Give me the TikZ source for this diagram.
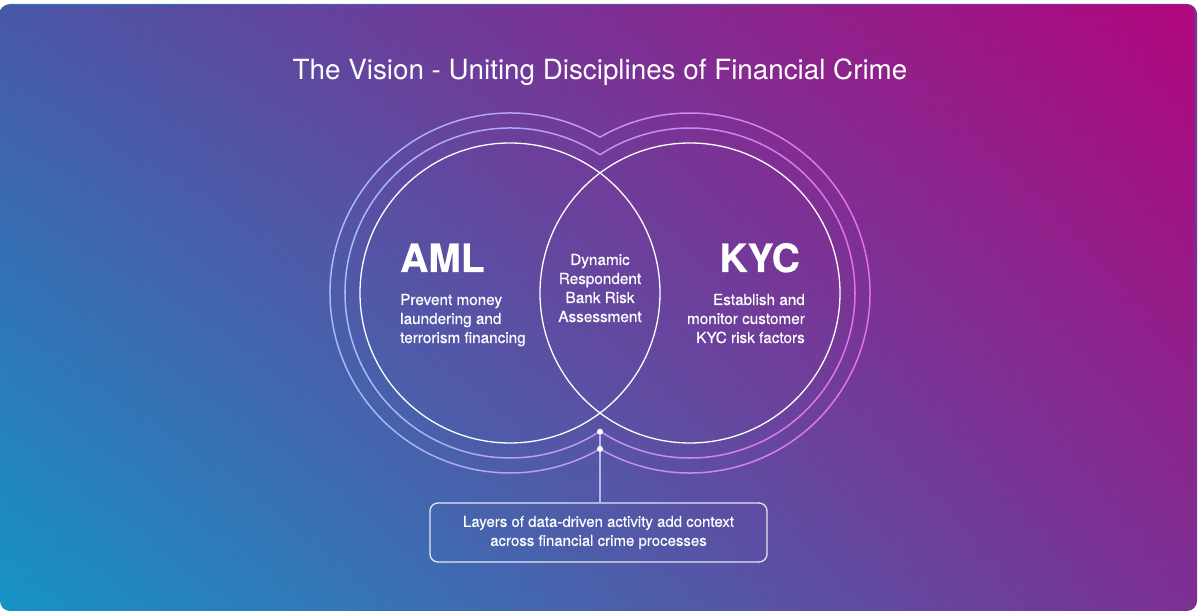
\documentclass[tikz,border=0pt]{standalone}
\usepackage{fontspec}
\setmainfont{TeX Gyre Heros}
\newfontfamily\medfont[FakeBold=0.5]{TeX Gyre Heros}
\newfontfamily\headfont[BoldFeatures={FakeBold=0.6}]{TeX Gyre Heros}
\usetikzlibrary{fadings}
\definecolor{bgTL}{RGB}{74,88,168}
\definecolor{bgTR}{RGB}{178,6,126}
\definecolor{bgBL}{RGB}{22,148,198}
\definecolor{bgBR}{RGB}{124,48,148}
\definecolor{ringL}{RGB}{160,192,252}
\definecolor{ringM}{RGB}{192,150,240}
\definecolor{ringR}{RGB}{232,108,236}
\definecolor{stemcol}{RGB}{182,186,242}
\newcommand\unionpath[1]{([shift={({acos(90/#1)}:#1)}]510,322) arc[start angle={acos(90/#1)}, end angle={360-acos(90/#1)}, radius=#1] arc[start angle={180+acos(90/#1)}, end angle={540-acos(90/#1)}, radius=#1] -- cycle}
\tikzset{
  bodytext/.style={text=white, font=\medfont\fontsize{15.3}{19}\selectfont, inner sep=0pt},
  headtext/.style={text=white, font=\headfont\bfseries\fontsize{39}{44}\selectfont, inner sep=0pt},
  titletext/.style={text=white, font=\fontsize{27.8}{32}\selectfont, inner sep=0pt},
  venn/.style={circle, draw=white, line width=1.3pt, minimum size=300pt, inner sep=0pt},
  dotnode/.style={circle, fill=white, minimum size=6pt, inner sep=0pt},
  notebox/.style={draw=white, draw opacity=0.85, line width=1.3pt, rounded corners=8pt, minimum width=337pt, minimum height=59pt, align=center, text=white, font=\medfont\fontsize{15}{19}\selectfont},
  ring/.style={left color=ringL, right color=ringR, middle color=ringM, even odd rule},
  stem/.style={draw=stemcol, line width=1.5pt}
}
\begin{document}
\begin{tikzpicture}[x=1pt,y=1pt]
\useasboundingbox (0,0) rectangle (1200,615);
\fill[white] (0,0) rectangle (1200,615);
% background gradient
\shade[left color=bgBL, right color=bgBR, rounded corners=10pt] (0,4) rectangle (1197,611);
\shade[left color=bgTL, right color=bgTR, rounded corners=10pt, path fading=south] (0,4) rectangle (1197,611);
% outer rings
\shade[ring] \unionpath{180.75} \unionpath{179.25};
\shade[ring] \unionpath{165.75} \unionpath{164.25};
% venn circles
\node[venn] (aml) at (510,322) {};
\node[venn] (kyc) at (690,322) {};
% title
\node[titletext, anchor=base] (title) at (600,535) {The Vision - Uniting Disciplines of Financial Crime};
% headings
\node[headtext, anchor=base west] (amlhead) at (400,343) {AML};
\node[headtext, anchor=base east] (kychead) at (800,343) {KYC};
% body texts (base anchor = baseline of last line)
\node[bodytext, anchor=base west, align=left] (amltext) at (400,272) {Prevent money\\laundering and\\terrorism financing};
\node[bodytext, anchor=base east, align=right] (kyctext) at (805,272) {Establish and\\monitor customer\\KYC risk factors};
\node[bodytext, anchor=base, align=center] (centertext) at (600,293) {Dynamic\\Respondent\\Bank Risk\\Assessment};
% note box
\node[notebox] (note) at (598.5,82.5) {Layers of data-driven activity add context\\across financial crime processes};
% stem and dots
\coordinate (d1) at (600,183.3);
\coordinate (d2) at (600,166.1);
\draw[stem] (d1) -- (d1 |- note.north);
\node[dotnode] (dot1) at (d1) {};
\node[dotnode] (dot2) at (d2) {};
\end{tikzpicture}
\end{document}
